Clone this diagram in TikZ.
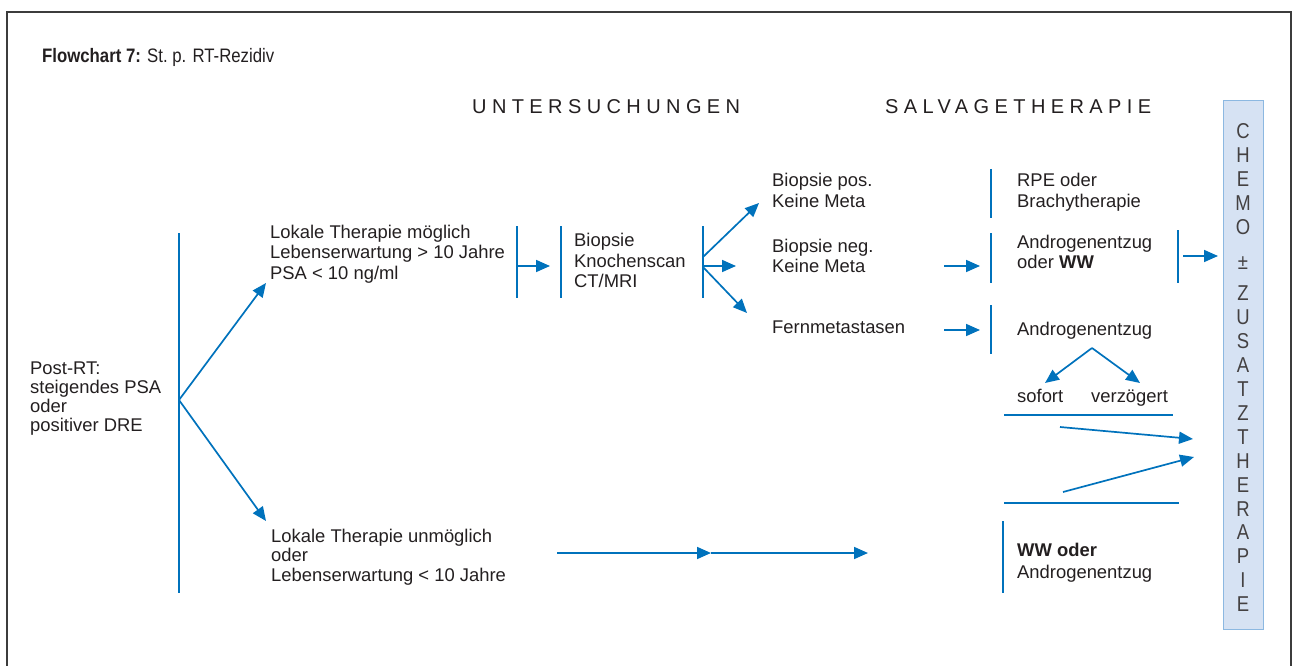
\documentclass[tikz,border=0pt]{standalone}
\usepackage{fontspec}
\setmainfont{Liberation Sans}
\newfontfamily\spacedfont[LetterSpace=27]{Liberation Sans}
\newfontfamily\narrowfont[FakeStretch=0.86]{Liberation Sans}
\usetikzlibrary{arrows.meta}

\definecolor{flowblue}{RGB}{0,114,188}
\definecolor{ink}{RGB}{35,31,32}
\definecolor{framegray}{RGB}{60,60,60}
\definecolor{boxfill}{RGB}{214,226,243}
\definecolor{boxline}{RGB}{140,184,225}

% multi-line block whose reference point is the first baseline
\newcommand{\ml}[1]{\begin{tabular}[t]{@{}l@{}}#1\end{tabular}}
\newcommand{\mc}[1]{\begin{tabular}[t]{@{}c@{}}#1\end{tabular}}

\tikzset{
  txt/.style={anchor=base west, inner sep=0pt, text=ink, font=\fontsize{18.4}{20.5}\selectfont},
  head/.style={anchor=base west, inner sep=0pt, text=ink, font=\spacedfont\fontsize{20}{22}\selectfont},
  bar/.style={draw=flowblue, line width=2pt},
  rule/.style={draw=flowblue, line width=1.6pt},
  arr/.style={draw=flowblue, line width=1.7pt, -{Triangle[length=14pt,width=12pt]}},
}

\begin{document}
\begin{tikzpicture}[x=1pt,y=-1pt]
\useasboundingbox (0,0) rectangle (1294,666);

% outer frame (open at the bottom)
\draw[framegray, line width=1.6pt] (7,670) -- (7,12) -- (1291,12) -- (1291,670);

% title and column headings
\node[txt, font=\narrowfont\fontsize{19.5}{22}\selectfont] (title) at (42,63)
  {\textbf{Flowchart 7:} St.\ p. RT-Rezidiv};
\node[head] (hU) at (472,114) {UNTERSUCHUNGEN};
\node[head] (hS) at (885,114) {SALVAGETHERAPIE};

% text blocks
\node[txt, font=\fontsize{18.4}{19.3}\selectfont] (post) at (30,374)
  {\ml{Post-RT:\\steigendes PSA\\oder\\positiver DRE}};
\node[txt] (loc1) at (270,238)
  {\ml{Lokale Therapie möglich\\Lebenserwartung > 10 Jahre\\PSA < 10 ng/ml}};
\node[txt, font=\fontsize{18.4}{19.7}\selectfont] (loc2) at (271,542)
  {\ml{Lokale Therapie unmöglich\\oder\\Lebenserwartung < 10 Jahre}};
\node[txt] (unt) at (574,247) {\ml{Biopsie\\Knochenscan\\CT/MRI}};
\node[txt] (bpos) at (772,187) {\ml{Biopsie pos.\\Keine Meta}};
\node[txt] (bneg) at (772,252) {\ml{Biopsie neg.\\Keine Meta}};
\node[txt] (fern) at (772,333) {Fernmetastasen};
\node[txt] (rpe) at (1017,187) {\ml{RPE oder\\Brachytherapie}};
\node[txt] (and1) at (1017,248) {\ml{Androgenentzug\\oder \textbf{WW}}};
\node[txt] (and2) at (1017,335) {Androgenentzug};
\node[txt] (sof) at (1017,402) {sofort};
\node[txt] (ver) at (1091,402) {verzögert};
\node[txt, font=\fontsize{18.4}{22}\selectfont] (ww) at (1017,556)
  {\ml{\textbf{WW oder}\\Androgenentzug}};

% chemo column
\node[draw=boxline, fill=boxfill, line width=1pt, minimum width=40pt,
      minimum height=528pt, inner sep=0pt] (chemo) at (1243,365) {};
\node[anchor=base, inner sep=0pt, text=ink!85, font=\narrowfont\fontsize{21.5}{23.95}\selectfont]
  (chemotxt) at (1243,138.8)
  {\mc{C\\H\\E\\M\\O\\[10.5pt]±\\[7.5pt]Z\\U\\S\\A\\T\\Z\\T\\H\\E\\R\\A\\P\\I\\E}};

% bar end points
\coordinate (s0t) at (179,233);  \coordinate (s0b) at (179,593);
\coordinate (s0m) at (179,400);
\coordinate (b1t) at (517,226);  \coordinate (b1b) at (517,298);
\coordinate (b2t) at (561,226);  \coordinate (b2b) at (561,298);
\coordinate (b3t) at (703,226);  \coordinate (b3b) at (703,298);
\coordinate (r1t) at (991,169);  \coordinate (r1b) at (991,218);
\coordinate (r2t) at (991,233);  \coordinate (r2b) at (991,283);
\coordinate (r2rt) at (1178,230); \coordinate (r2rb) at (1178,283);
\coordinate (r3t) at (991,305);  \coordinate (r3b) at (991,354);
\coordinate (r4t) at (1003,521); \coordinate (r4b) at (1003,593);
\coordinate (u1l) at (1004,415); \coordinate (u1r) at (1173,415);
\coordinate (u2l) at (1004,503); \coordinate (u2r) at (1179,503);

\draw[bar] (s0t) -- (s0b);
\draw[bar] (b1t) -- (b1b);
\draw[bar] (b2t) -- (b2b);
\draw[bar] (b3t) -- (b3b);
\draw[bar] (r1t) -- (r1b);
\draw[bar] (r2t) -- (r2b);
\draw[bar] (r2rt) -- (r2rb);
\draw[bar] (r3t) -- (r3b);
\draw[bar] (r4t) -- (r4b);
\draw[rule] (u1l) -- (u1r);
\draw[rule] (u2l) -- (u2r);

% arrow end points
\coordinate (a1) at (266,283);
\coordinate (a2) at (266,521);
\coordinate (b1m) at (517,266);  \coordinate (b1e) at (550,266);
\coordinate (b3u) at (703,257);  \coordinate (f1) at (759,203);
\coordinate (b3m) at (703,266);  \coordinate (f2) at (736,266);
\coordinate (b3d) at (703,267);  \coordinate (f3) at (747,313);
\coordinate (g1s) at (944,266);  \coordinate (g1e) at (980,266);
\coordinate (g2s) at (944,330);  \coordinate (g2e) at (980,330);
\coordinate (c1s) at (1183,256); \coordinate (c1e) at (1218,256);
\coordinate (fk) at (1092,348);
\coordinate (fkl) at (1045,383); \coordinate (fkr) at (1140,383);
\coordinate (d1s) at (1060,427); \coordinate (d1e) at (1193,439);
\coordinate (d2s) at (1063,492); \coordinate (d2e) at (1194,457);
\coordinate (l1) at (557,553);   \coordinate (l2) at (711,553);
\coordinate (l3) at (868,553);

\draw[arr] (s0m) -- (a1);
\draw[arr] (s0m) -- (a2);
\draw[arr] (b1m) -- (b1e);
\draw[arr] (b3u) -- (f1);
\draw[arr] (b3m) -- (f2);
\draw[arr] (b3d) -- (f3);
\draw[arr] (g1s) -- (g1e);
\draw[arr] (g2s) -- (g2e);
\draw[arr] (c1s) -- (c1e);
\draw[arr] (fk) -- (fkl);
\draw[arr] (fk) -- (fkr);
\draw[arr] (d1s) -- (d1e);
\draw[arr] (d2s) -- (d2e);
\draw[arr] (l1) -- (l2);
\draw[arr] (l2) -- (l3);
\end{tikzpicture}
\end{document}
